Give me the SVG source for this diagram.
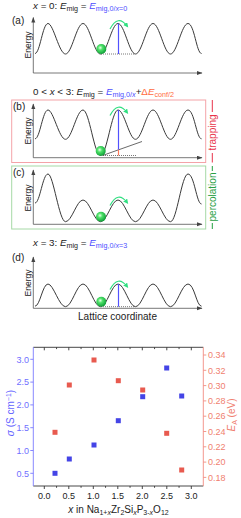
<svg xmlns="http://www.w3.org/2000/svg" width="241" height="518" viewBox="0 0 241 518">
<style>
text{font-family:"Liberation Sans",Arial,sans-serif;fill:#222}
.t{font-size:9.8px}
.lab{font-size:10px}
.en{font-size:8.5px}
.it{font-style:italic}
.curve{fill:none;stroke:#3a3a3a;stroke-width:1}
.ax{fill:none;stroke:#555;stroke-width:0.8}
.bl{stroke:#5252ff;stroke-width:1.2}
.dot{stroke:#555;stroke-width:0.8;stroke-dasharray:1,1}
.garr{fill:none;stroke:#30df80;stroke-width:1.2}
.tk{font-size:9px}
.sb{fill:#4444e6}
.sr{fill:#e85a4f}
</style>
<defs>
<marker id="ah" markerUnits="userSpaceOnUse" markerWidth="6" markerHeight="5" refX="5" refY="2" orient="auto"><path d="M0,0 L5.5,2 L0,4 z" fill="#444"/></marker>
<marker id="gh" markerUnits="userSpaceOnUse" markerWidth="6" markerHeight="6" refX="3" refY="2.5" orient="auto"><path d="M0,0 L5,2.5 L0,5 z" fill="#30df80"/></marker>
<radialGradient id="ball" cx="0.4" cy="0.38" r="0.65"><stop offset="0" stop-color="#e6ffe6"/><stop offset="0.35" stop-color="#4fe36a"/><stop offset="1" stop-color="#0c9a35"/></radialGradient>
</defs>

<g id="panel-a">
<text class="t" x="33" y="9"><tspan class="it">x</tspan> = 0: <tspan class="it">E</tspan><tspan dy="2" font-size="7.2">mig</tspan><tspan dy="-2"> = </tspan><tspan style="fill:#4d4dff"><tspan class="it">E</tspan><tspan dy="2" font-size="7.2">mig,0/<tspan class="it">x</tspan>=0</tspan></tspan></text>
<text class="lab" x="12" y="23.5">(a)</text>
<text class="en" transform="translate(31,45) rotate(-90)" text-anchor="middle">Energy</text>
<path class="ax" d="M33.3,73 V17.5" marker-end="url(#ah)"/>
<path class="ax" d="M33.3,73 H202" marker-end="url(#ah)"/>
<path class="curve" d="M35,53.5 C40,53.5 42.6,23.5 48,23.5 S59.14,54 65.5,54 S76.64,23.5 83,23.5 S94.14,54 100.5,54 S111.64,23.5 118,23.5 S129.14,54 135.5,54 S146.64,23.5 153,23.5 S164.14,54 170.5,54 S181.64,23.5 188,23.5 S196.5,53.5 201.5,53.5"/>
<line class="dot" x1="101" y1="54" x2="134" y2="54"/>
<line class="bl" x1="118.5" y1="23.5" x2="118.5" y2="54"/>
<circle cx="101.3" cy="49" r="5" fill="url(#ball)"/>
<path class="garr" d="M110,29 Q118,14 127,26" marker-end="url(#gh)"/>
</g>

<g id="panel-b">
<text class="t" x="33" y="95">0 &lt; <tspan class="it">x</tspan> &lt; 3: <tspan class="it">E</tspan><tspan dy="2" font-size="7.2">mig</tspan><tspan dy="-2"> = </tspan><tspan style="fill:#4d4dff"><tspan class="it">E</tspan><tspan dy="2" font-size="7.2">mig,0/<tspan class="it">x</tspan></tspan></tspan><tspan dy="-2">+</tspan><tspan style="fill:#ff6a3d">Δ<tspan class="it">E</tspan><tspan dy="2" font-size="7.2">conf/2</tspan></tspan></text>
<rect x="11.7" y="100" width="194" height="62.5" fill="none" stroke="#f4a3a8" stroke-width="1"/>
<text class="lab" x="13" y="110">(b)</text>
<text class="en" transform="translate(31,131) rotate(-90)" text-anchor="middle">Energy</text>
<path class="ax" d="M33.3,157.7 V104" marker-end="url(#ah)"/>
<path class="ax" d="M33.3,157.7 H202" marker-end="url(#ah)"/>
<path class="curve" d="M35,138.8 C40,138.8 42.6,110 48,110 S59.14,139.3 65.5,139.3 S76.64,110 83,110 S94.14,155.5 100.5,155.5 S111.64,110 118,110 S129.14,139.3 135.5,139.3 S146.64,110 153,110 S164.14,139.3 170.5,139.3 S181.64,110 188,110 S196.5,138.8 201.5,138.8"/>
<line class="dot" x1="103" y1="155.5" x2="136" y2="155.5"/>
<line x1="102.5" y1="155.5" x2="142" y2="141.5" stroke="#444" stroke-width="0.8"/>
<line class="bl" x1="118.5" y1="110" x2="118.5" y2="149.7"/>
<line x1="118.5" y1="149.7" x2="118.5" y2="155.5" stroke="#ff7a5a" stroke-width="1.2"/>
<circle cx="100.7" cy="151" r="5" fill="url(#ball)"/>
<path class="garr" d="M110,115.5 Q118,100.5 127,112.5" marker-end="url(#gh)"/>
<line x1="212.3" y1="100" x2="212.3" y2="112" stroke="#e8334a" stroke-width="1"/>
<line x1="212.3" y1="153" x2="212.3" y2="162.5" stroke="#e8334a" stroke-width="1"/>
<text class="lab" transform="translate(215.5,132.5) rotate(-90)" text-anchor="middle" style="fill:#e8334a">trapping</text>
</g>

<g id="panel-c">
<rect x="11.7" y="166" width="194" height="63" fill="none" stroke="#a6d9a6" stroke-width="1"/>
<text class="lab" x="13" y="176">(c)</text>
<text class="en" transform="translate(31,198) rotate(-90)" text-anchor="middle">Energy</text>
<path class="ax" d="M33.3,224.3 V170" marker-end="url(#ah)"/>
<path class="ax" d="M33.3,224.3 H202" marker-end="url(#ah)"/>
<path class="curve" d="M35,203 C40,203 42.6,174 48,174 S59.14,221.7 65.5,221.7 S76.64,200 83,200 S94.14,221.7 100.5,221.7 S111.64,200 118,200 S129.14,221.7 135.5,221.7 S146.64,200 153,200 S164.14,221.7 170.5,221.7 S181.64,174 188,174 S196.5,204 201.5,204"/>
<circle cx="101" cy="216.7" r="5" fill="url(#ball)"/>
<path class="garr" d="M110,205.5 Q118,190.5 127,202.5" marker-end="url(#gh)"/>
<line x1="212.3" y1="166" x2="212.3" y2="171" stroke="#22a040" stroke-width="1"/>
<line x1="212.3" y1="223" x2="212.3" y2="229" stroke="#22a040" stroke-width="1"/>
<text class="lab" transform="translate(215.5,197) rotate(-90)" text-anchor="middle" style="fill:#2aa045">percolation</text>
</g>

<g id="panel-d">
<text class="t" x="33" y="246"><tspan class="it">x</tspan> = 3: <tspan class="it">E</tspan><tspan dy="2" font-size="7.2">mig</tspan><tspan dy="-2"> = </tspan><tspan style="fill:#4d4dff"><tspan class="it">E</tspan><tspan dy="2" font-size="7.2">mig,0/<tspan class="it">x</tspan>=3</tspan></tspan></text>
<text class="lab" x="12" y="260.5">(d)</text>
<text class="en" transform="translate(31,283) rotate(-90)" text-anchor="middle">Energy</text>
<path class="ax" d="M33.3,308.3 V257" marker-end="url(#ah)"/>
<path class="ax" d="M33.3,308.3 H202" marker-end="url(#ah)"/>
<path class="curve" d="M35,306.2 C40,306.2 42.6,284 48,284 S59.14,306.7 65.5,306.7 S76.64,284 83,284 S94.14,306.7 100.5,306.7 S111.64,284 118,284 S129.14,306.7 135.5,306.7 S146.64,284 153,284 S164.14,306.7 170.5,306.7 S181.64,284 188,284 S196.5,306.2 201.5,306.2"/>
<line class="dot" x1="101" y1="306.7" x2="134" y2="306.7"/>
<line class="bl" x1="118.5" y1="284" x2="118.5" y2="306.7"/>
<circle cx="101.3" cy="301.7" r="5" fill="url(#ball)"/>
<path class="garr" d="M110,289.5 Q118,274.5 127,286.5" marker-end="url(#gh)"/>
<text class="lab" x="117.5" y="319.5" text-anchor="middle">Lattice coordinate</text>
</g>

<g id="plot">
<g id="plot-axes" fill="none" stroke-width="0.9">
<line x1="33.3" y1="347.3" x2="203.3" y2="347.3" stroke="#333"/>
<line x1="33.3" y1="486" x2="203.3" y2="486" stroke="#333"/>
<line x1="33.3" y1="347.3" x2="33.3" y2="486" stroke="#7a7aff"/>
<line x1="203.3" y1="347.3" x2="203.3" y2="486" stroke="#f28c82"/>
<path stroke="#333" d="M44.3,347.3v3 M68.8,347.3v3 M93.3,347.3v3 M117.8,347.3v3 M142.3,347.3v3 M166.8,347.3v3 M191.3,347.3v3 M56.55,347.3v1.8 M81.05,347.3v1.8 M105.55,347.3v1.8 M130.05,347.3v1.8 M154.55,347.3v1.8 M179.05,347.3v1.8 M44.3,486v3 M68.8,486v3 M93.3,486v3 M117.8,486v3 M142.3,486v3 M166.8,486v3 M191.3,486v3 M56.55,486v1.8 M81.05,486v1.8 M105.55,486v1.8 M130.05,486v1.8 M154.55,486v1.8 M179.05,486v1.8"/>
<path stroke="#7a7aff" d="M33.3,359.3h-3 M33.3,382.1h-3 M33.3,404.9h-3 M33.3,427.7h-3 M33.3,450.5h-3 M33.3,473.3h-3"/>
<path stroke="#f28c82" d="M203.3,355h3 M203.3,370.3h3 M203.3,385.6h3 M203.3,400.9h3 M203.3,416.2h3 M203.3,431.5h3 M203.3,446.8h3 M203.3,462.1h3 M203.3,477.4h3"/>
</g>
<g id="plot-left-labels" text-anchor="end">
<text class="tk" x="29" y="362.5" style="fill:#6f6fff">3.0</text>
<text class="tk" x="29" y="385.3" style="fill:#6f6fff">2.5</text>
<text class="tk" x="29" y="408.1" style="fill:#6f6fff">2.0</text>
<text class="tk" x="29" y="430.9" style="fill:#6f6fff">1.5</text>
<text class="tk" x="29" y="453.7" style="fill:#6f6fff">1.0</text>
<text class="tk" x="29" y="476.5" style="fill:#6f6fff">0.5</text>
</g>
<g id="plot-right-labels">
<text class="tk" x="208" y="358.2" style="fill:#f08070">0.34</text>
<text class="tk" x="208" y="373.5" style="fill:#f08070">0.32</text>
<text class="tk" x="208" y="388.8" style="fill:#f08070">0.30</text>
<text class="tk" x="208" y="404.1" style="fill:#f08070">0.28</text>
<text class="tk" x="208" y="419.4" style="fill:#f08070">0.26</text>
<text class="tk" x="208" y="434.7" style="fill:#f08070">0.24</text>
<text class="tk" x="208" y="450" style="fill:#f08070">0.22</text>
<text class="tk" x="208" y="465.3" style="fill:#f08070">0.20</text>
<text class="tk" x="208" y="480.6" style="fill:#f08070">0.18</text>
</g>
<g id="plot-bottom-labels" text-anchor="middle">
<text class="tk" x="44.3" y="499">0.0</text>
<text class="tk" x="68.8" y="499">0.5</text>
<text class="tk" x="93.3" y="499">1.0</text>
<text class="tk" x="117.8" y="499">1.5</text>
<text class="tk" x="142.3" y="499">2.0</text>
<text class="tk" x="166.8" y="499">2.5</text>
<text class="tk" x="191.3" y="499">3.0</text>
</g>
<text class="lab" transform="translate(13.5,413) rotate(-90)" text-anchor="middle" style="fill:#6464ff"><tspan class="it">σ</tspan> (S cm<tspan dy="-3" font-size="7">−1</tspan><tspan dy="3">)</tspan></text>
<text class="lab" transform="translate(235,415) rotate(-90)" text-anchor="middle" style="fill:#f08070"><tspan class="it">E</tspan><tspan dy="2" font-size="7">A</tspan><tspan dy="-2"> (eV)</tspan></text>
<text class="lab" x="118.5" y="513" text-anchor="middle"><tspan class="it">x</tspan> in Na<tspan dy="2" font-size="7">1+<tspan class="it">x</tspan></tspan><tspan dy="-2">Zr</tspan><tspan dy="2" font-size="7">2</tspan><tspan dy="-2">Si</tspan><tspan dy="2" font-size="7" class="it">x</tspan><tspan dy="-2">P</tspan><tspan dy="2" font-size="7">3-<tspan class="it">x</tspan></tspan><tspan dy="-2">O</tspan><tspan dy="2" font-size="7">12</tspan></text>
<g id="sigma-points" class="sb">
<rect x="52.5" y="470.8" width="5" height="5"/>
<rect x="66.8" y="456.5" width="5" height="5"/>
<rect x="91.5" y="442.5" width="5" height="5"/>
<rect x="115.8" y="418.2" width="5" height="5"/>
<rect x="140.2" y="394.2" width="5" height="5"/>
<rect x="164.2" y="365.5" width="5" height="5"/>
<rect x="179.2" y="393.5" width="5" height="5"/>
</g>
<g id="ea-points" class="sr">
<rect x="52.5" y="429.8" width="5" height="5"/>
<rect x="66.8" y="382.5" width="5" height="5"/>
<rect x="91.5" y="357.5" width="5" height="5"/>
<rect x="115.8" y="378.2" width="5" height="5"/>
<rect x="140.2" y="387.5" width="5" height="5"/>
<rect x="164.2" y="430.8" width="5" height="5"/>
<rect x="179.2" y="467.5" width="5" height="5"/>
</g>
</g>
</svg>
